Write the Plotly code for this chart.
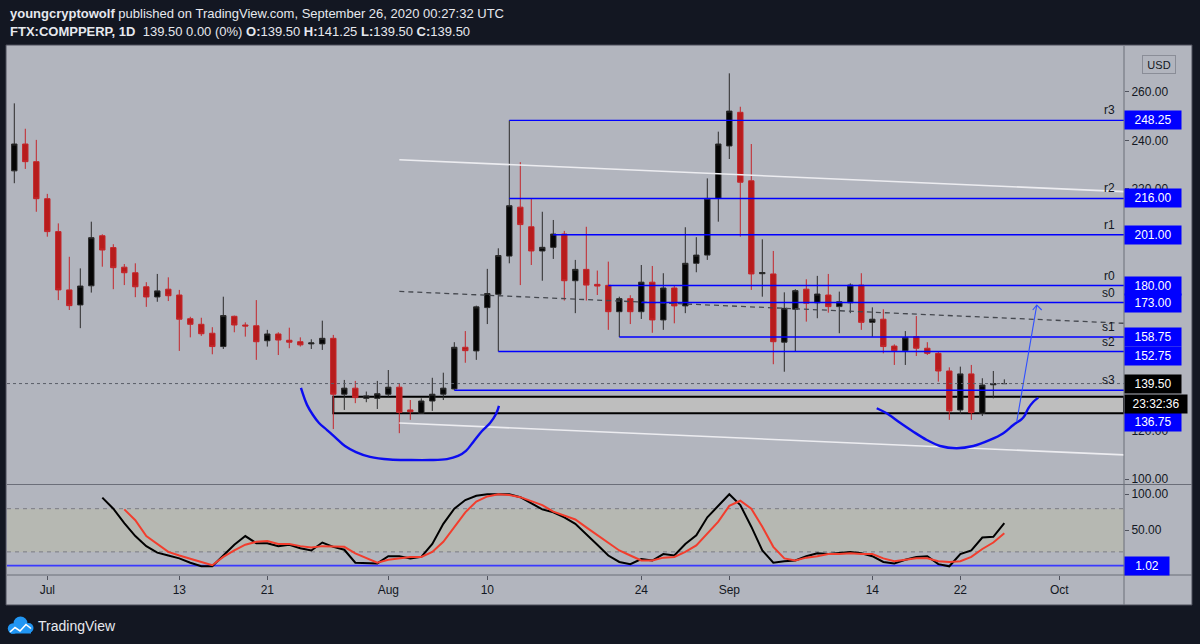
import pandas as pd
import plotly.graph_objects as go

FONT = "Liberation Sans"

# ---------------- data ----------------
first_day = pd.Timestamp("2020-06-28")
dates = pd.date_range(first_day, periods=91, freq="D")

opens = [227.4, 238.5, 231.2, 215.9, 202.3, 178.2, 172.0, 179.9, 200.6, 195.7,
         187.6, 185.3, 179.5, 175.3, 178.5, 176.1, 166.3, 164.0, 160.3, 154.8,
         167.3, 163.7, 163.4, 157.2, 160.0, 157.4, 156.8, 155.9, 155.9, 158.2,
         135.1, 137.6, 133.4, 133.4, 135.1, 138.0, 128.6, 127.2, 132.3, 135.1,
         137.3, 154.5, 153.0, 170.9, 176.4, 192.2, 212.4, 204.3, 194.3, 195.8,
         201.3, 182.0, 186.7, 180.5, 180.1, 169.2, 174.6, 169.2, 181.4, 165.8,
         179.0, 171.6, 189.2, 192.6, 216.0, 237.7, 251.6, 223.3, 184.9, 184.8,
         156.6, 170.2, 178.5, 172.9, 176.1, 171.3, 172.9, 180.2, 164.8, 166.1,
         155.0, 153.1, 158.9, 154.1, 152.0, 144.7, 128.6, 143.5, 127.2, 139.0,
         139.5]
highs = [255.3, 244.8, 240.2, 217.9, 205.7, 191.9, 187.1, 206.4, 201.2, 197.1,
         188.9, 189.2, 181.4, 184.8, 183.4, 178.2, 167.1, 166.7, 162.8, 175.4,
         167.6, 164.8, 174.0, 161.7, 160.7, 162.6, 158.6, 157.8, 165.5, 159.6,
         141.0, 140.6, 136.2, 140.6, 145.1, 139.5, 132.7, 133.4, 141.9, 144.0,
         156.6, 161.2, 171.7, 186.9, 195.4, 248.25, 231.0, 216.0, 210.5, 207.1,
         202.6, 190.6, 204.3, 186.2, 189.9, 175.4, 176.0, 188.5, 188.1, 185.1,
         180.2, 204.1, 200.0, 224.3, 243.6, 267.7, 253.9, 238.5, 199.1, 194.3,
         177.2, 178.5, 182.6, 184.0, 184.8, 177.5, 180.9, 185.1, 171.0, 170.2,
         155.7, 161.2, 167.4, 156.6, 152.7, 146.2, 146.5, 147.2, 141.7, 144.7,
         141.25]
lows = [222.3, 228.2, 210.5, 200.2, 174.0, 169.9, 162.4, 177.1, 187.8, 178.5,
        180.2, 175.2, 171.2, 173.3, 173.6, 153.0, 158.6, 159.2, 151.6, 153.8,
        160.7, 158.9, 149.3, 154.8, 151.3, 154.1, 154.8, 153.8, 153.4, 120.7,
        128.6, 131.4, 131.8, 129.0, 134.1, 119.0, 124.5, 127.0, 128.2, 132.7,
        136.75, 148.1, 149.3, 164.1, 152.75, 189.2, 180.2, 188.5, 182.0, 191.0,
        173.8, 168.6, 173.8, 176.1, 161.7, 158.75, 164.1, 166.2, 160.5, 161.7,
        164.4, 168.6, 185.5, 190.6, 206.4, 232.3, 200.2, 178.2, 175.4, 147.5,
        144.4, 152.7, 165.1, 166.5, 168.8, 160.3, 168.6, 161.7, 158.9, 152.0,
        147.2, 147.2, 150.9, 151.3, 140.3, 124.5, 126.9, 124.5, 126.1, 133.4,
        139.5]
closes = [238.5, 231.2, 215.9, 202.3, 178.2, 171.7, 179.8, 199.8, 194.7, 187.4,
          185.3, 179.5, 175.3, 177.8, 175.8, 166.1, 164.0, 160.1, 154.8, 167.6,
          163.7, 163.3, 156.8, 160.0, 157.5, 156.6, 155.5, 156.3, 158.2, 135.1,
          137.6, 133.7, 134.4, 135.3, 138.0, 127.6, 127.9, 132.3, 135.1, 137.6,
          154.5, 153.1, 171.2, 176.7, 192.4, 213.0, 205.2, 194.3, 195.8, 201.3,
          182.0, 186.7, 180.2, 179.8, 169.2, 174.6, 169.2, 181.4, 165.8, 179.0,
          171.6, 189.2, 192.6, 216.0, 238.5, 252.1, 222.7, 184.8, 185.4, 156.8,
          170.6, 177.9, 172.7, 176.5, 171.3, 173.3, 180.2, 164.8, 166.1, 154.8,
          153.1, 158.5, 154.1, 152.0, 144.7, 128.2, 143.5, 127.5, 138.9, 139.5,
          139.5]

# Stoch RSI (K black, D red)
k_first = pd.Timestamp("2020-07-06")
stoch_k = [95.4, 80, 60, 42, 28, 19, 15, 11, 5, 0, 0, 15, 30, 42, 32, 32, 28, 30, 25,
           22, 33, 27, 23, 5, 4, 4, 14, 14, 11, 13, 31, 59, 80, 92, 98, 100, 100, 100,
           96, 87, 79, 75, 68, 59, 45, 30, 15, 6, 3, 10, 8, 17, 15, 31, 43, 68, 84,
           100, 85, 55, 22, 5, 7, 8, 14, 18, 17, 19, 20, 18, 14, 6, 4, 9, 13, 14, 3,
           0, 17, 22, 40, 41, 60]
d_first = pd.Timestamp("2020-07-08")
stoch_d = [79, 64, 42, 31, 20, 15, 11, 6, 1.5, 13, 22, 30, 34, 35, 31, 31, 28, 26, 28,
           28, 27, 18, 12, 5, 9, 11, 13, 13, 20, 34, 55, 75, 90, 97, 100, 99, 96, 90,
           85, 76, 70, 65, 54, 43, 33, 22, 15, 8, 8, 12, 13, 20, 29, 46, 62, 84, 91,
           80, 55, 27, 11, 8, 12, 14, 17, 17, 18, 17, 17, 11, 7, 9, 11, 11, 7, 6, 7,
           13, 24, 33, 46]
stoch_level = 1.02
band_low, band_high = 20, 80

# Horizontal levels drawn on the chart
level_names = ["r3", "r2", "r1", "r0", "s0", "s1", "s2", "s3"]
level_prices = [248.25, 216.00, 201.00, 180.00, 173.00, 158.75, 152.75, 136.75]
level_starts = ["2020-08-12", "2020-08-12", "2020-08-16", "2020-08-21",
                "2020-08-24", "2020-08-22", "2020-08-11", "2020-08-07"]
label_shift = [0, 0, 0, 0, 0, 0, -4.5, -32]

last_price = 139.50
countdown = "23:32:36"

# Support zone rectangle
zone_start = "2020-07-27"
zone_top, zone_bottom = 134.1, 127.2

# Parallel channel
channel_dates = ["2020-08-02", "2020-10-07"]
channel_top = [232.0, 218.8]
channel_mid = [177.6, 164.4]
channel_bottom = [123.2, 110.0]

# Hand drawn curves (days after first candle, price)
left_curve_days = [26.06, 26.61, 27.15, 27.7, 28.43, 29.15, 30.06, 31.06, 32.34, 34.15,
                   35.97, 37.79, 39.33, 40.34, 41.06, 41.79, 42.52, 43.25, 43.79, 44.06]
left_curve_prices = [137.7, 130.7, 126.5, 123.2, 120.3, 117.4, 113.7, 111.2, 109.2, 108.1,
                     107.9, 107.9, 108.3, 109.6, 111.7, 115.8, 119.9, 123.2, 126.9, 130.3]
right_curve_days = [78.4, 79.31, 80.52, 81.73, 82.95, 84.15, 85.67, 87.18, 88.7, 89.91,
                    90.82, 91.58, 91.88, 92.18, 92.64, 93.09]
right_curve_prices = [129.3, 127.2, 123.3, 119.6, 116.2, 113.7, 112.8, 113.7, 116.2, 119.0,
                      122.4, 124.8, 126.5, 129.3, 132.0, 133.7]
arrow_days = [91.13, 92.95]
arrow_prices = [123.8, 171.9]
arrowhead_days = [92.58, 92.95, 93.4]
arrowhead_prices = [169.9, 171.9, 169.9]

# Axis ticks (price ticks hidden behind level labels are omitted)
time_ticks = ["2020-07-01", "2020-07-13", "2020-07-21", "2020-08-01", "2020-08-10",
              "2020-08-24", "2020-09-01", "2020-09-14", "2020-09-22", "2020-10-01"]
time_labels = ["Jul", "13", "21", "Aug", "10", "24", "Sep", "14", "22", "Oct"]
price_ticks = [100, 120, 220, 240, 260]
stoch_ticks = [50, 100]

# ---------------- geometry ----------------
PL, PR, PT, PB = 7, 1124, 46, 575
W, H = PR - PL, PB - PT


def px(x):
    return (x - PL) / W


def py(y):
    return (PB - y) / H


def day(d):
    return first_day + pd.to_timedelta(d, unit="D")


x_left = day(-0.6636)
x_right = day(100.88)
main_bottom = py(484)
ind_top = py(485)

BG = "#b2b5be"
BLUE = "#0000ff"
TXT = "#131722"

fig = go.Figure()

# candles
fig.add_trace(go.Candlestick(
    x=dates, open=opens, high=highs, low=lows, close=closes,
    increasing=dict(line=dict(color="#2b2b2b", width=1), fillcolor="#050505"),
    decreasing=dict(line=dict(color="#c4262b", width=1), fillcolor="#b71c1c"),
    xaxis="x", yaxis="y", hoverinfo="skip", whiskerwidth=0))

# channel
ch_x = pd.to_datetime(channel_dates)
for vals, col, dash, wd in [(channel_top, "#ececf0", "solid", 1.6),
                            (channel_bottom, "#ececf0", "solid", 1.6),
                            (channel_mid, "#45484f", "5px,4px", 1.3)]:
    fig.add_trace(go.Scatter(x=ch_x, y=vals, mode="lines",
                             line=dict(color=col, width=wd, dash=dash),
                             xaxis="x", yaxis="y", hoverinfo="skip"))

# horizontal levels
for name, p, s in zip(level_names, level_prices, level_starts):
    fig.add_trace(go.Scatter(x=[pd.Timestamp(s), x_right], y=[p, p], mode="lines",
                             line=dict(color=BLUE, width=1.4),
                             xaxis="x", yaxis="y", hoverinfo="skip"))

# hand-drawn curves
fig.add_trace(go.Scatter(x=[day(d) for d in left_curve_days], y=left_curve_prices,
                         mode="lines", line=dict(color="#0c0cf0", width=2.4, shape="spline"),
                         xaxis="x", yaxis="y", hoverinfo="skip"))
fig.add_trace(go.Scatter(x=[day(d) for d in right_curve_days], y=right_curve_prices,
                         mode="lines", line=dict(color="#0c0cf0", width=2.4, shape="spline"),
                         xaxis="x", yaxis="y", hoverinfo="skip"))
fig.add_trace(go.Scatter(x=[day(d) for d in arrow_days], y=arrow_prices,
                         mode="lines", line=dict(color="#3050ff", width=1.1),
                         xaxis="x", yaxis="y", hoverinfo="skip"))
fig.add_trace(go.Scatter(x=[day(d) for d in arrowhead_days], y=arrowhead_prices,
                         mode="lines", line=dict(color="#3050ff", width=1.1),
                         xaxis="x", yaxis="y", hoverinfo="skip"))

# stoch RSI
k_dates = pd.date_range(k_first, periods=len(stoch_k), freq="D")
d_dates = pd.date_range(d_first, periods=len(stoch_d), freq="D")
fig.add_trace(go.Scatter(x=k_dates, y=stoch_k, mode="lines",
                         line=dict(color="#000000", width=2), xaxis="x2", yaxis="y2",
                         hoverinfo="skip"))
fig.add_trace(go.Scatter(x=d_dates, y=stoch_d, mode="lines",
                         line=dict(color="#f23d2d", width=2), xaxis="x2", yaxis="y2",
                         hoverinfo="skip"))

shapes = []
# chart region background and border
shapes.append(dict(type="rect", xref="paper", yref="paper", x0=px(6), x1=px(1192),
                   y0=py(605), y1=py(45), fillcolor=BG,
                   line=dict(color="#4a4d58", width=1), layer="below"))
# support zone
shapes.append(dict(type="rect", xref="x", yref="y", x0=pd.Timestamp(zone_start), x1=x_right,
                   y0=zone_bottom, y1=zone_top, fillcolor="#bebebe",
                   line=dict(color="#000000", width=2), layer="below"))
# stoch band
shapes.append(dict(type="rect", xref="x2 domain", yref="y2", x0=0, x1=1,
                   y0=band_low, y1=band_high, fillcolor="#b6b8b2",
                   line=dict(width=0), layer="below"))
for lv in (band_low, band_high):
    shapes.append(dict(type="line", xref="x2 domain", yref="y2", x0=0, x1=1, y0=lv, y1=lv,
                       line=dict(color="#7a7c84", width=1, dash="4px,4px"), layer="below"))
shapes.append(dict(type="line", xref="x2 domain", yref="y2", x0=0, x1=1,
                   y0=stoch_level, y1=stoch_level, line=dict(color="#3a3aff", width=1.8),
                   layer="below"))
# current price dotted line
shapes.append(dict(type="line", xref="x domain", yref="y", x0=0, x1=1, y0=last_price,
                   y1=last_price, line=dict(color="#5a5d68", width=1, dash="dot")))
# separators
for yy in (484.5, 575):
    shapes.append(dict(type="line", xref="paper", yref="paper", x0=px(7), x1=px(1192),
                       y0=py(yy), y1=py(yy), line=dict(color="#6b6e79", width=1)))
shapes.append(dict(type="line", xref="paper", yref="paper", x0=px(1124), x1=px(1124),
                   y0=py(605), y1=py(46), line=dict(color="#6b6e79", width=1)))
# TradingView logo (footer)
for cx, cy, r in [(13, 628.5, 5.2), (20.5, 623.5, 7), (28.5, 628, 5)]:
    shapes.append(dict(type="circle", xref="paper", yref="paper", x0=px(cx - r), x1=px(cx + r),
                       y0=py(cy + r), y1=py(cy - r), fillcolor="#2196f3",
                       line=dict(width=0)))
shapes.append(dict(type="rect", xref="paper", yref="paper", x0=px(11), x1=px(31),
                   y0=py(633.5), y1=py(627), fillcolor="#2196f3", line=dict(width=0)))
shapes.append(dict(type="path", xref="paper", yref="paper",
                   path="M {} {} L {} {} L {} {} L {} {} L {} {}".format(
                       px(10), py(632), px(15), py(627.5), px(20), py(631),
                       px(26), py(624.5), px(31), py(628.5)),
                   line=dict(color="#ffffff", width=1.6)))

ann = []
# header
ann.append(dict(xref="paper", yref="paper", x=px(8), y=py(13), xanchor="left", yanchor="middle",
                showarrow=False,
                text="<b>youngcryptowolf</b> published on TradingView.com, September 26, 2020 00:27:32 UTC",
                font=dict(family=FONT, size=13, color="#e6e8ee")))
ann.append(dict(xref="paper", yref="paper", x=px(8), y=py(32), xanchor="left", yanchor="middle",
                showarrow=False,
                text="<b>FTX:COMPPERP, 1D</b>  139.50 0.00 (0%) <b>O:</b>139.50 <b>H:</b>141.25 "
                     "<b>L:</b>139.50 <b>C:</b>139.50",
                font=dict(family=FONT, size=13, color="#e6e8ee")))
# footer
ann.append(dict(xref="paper", yref="paper", x=px(36), y=py(626), xanchor="left", yanchor="middle",
                showarrow=False, text="TradingView",
                font=dict(family=FONT, size=14, color="#e6e8ee")))
# USD button
ann.append(dict(xref="paper", yref="paper", x=px(1159), y=py(64.5), xanchor="center",
                yanchor="middle", showarrow=False, text="USD", width=30, height=15,
                bgcolor=BG, bordercolor="#8a8d97", borderwidth=1, borderpad=1,
                font=dict(family=FONT, size=11, color=TXT)))
# level names and price-axis labels
for name, p, sh in zip(level_names, level_prices, label_shift):
    ann.append(dict(xref="paper", yref="y", x=px(1117), y=p, xanchor="right", yanchor="bottom",
                    yshift=1, showarrow=False, text=name,
                    font=dict(family=FONT, size=12, color=TXT)))
    ann.append(dict(xref="paper", yref="y", x=1, y=p, xanchor="left", yanchor="middle",
                    yshift=sh, showarrow=False, text=f"{p:.2f}", width=54, height=16,
                    borderpad=1, bgcolor="#0000ff",
                    font=dict(family=FONT, size=12, color="#ffffff")))
ann.append(dict(xref="paper", yref="y", x=1, y=last_price, xanchor="left", yanchor="middle",
                showarrow=False, text=f"{last_price:.2f}", width=54, height=16, borderpad=1,
                bgcolor="#000000", font=dict(family=FONT, size=12, color="#ffffff")))
ann.append(dict(xref="paper", yref="y", x=1, y=last_price, xanchor="left", yanchor="middle",
                yshift=-20, showarrow=False, text=countdown, width=60, height=16, borderpad=1,
                bgcolor="#000000", font=dict(family=FONT, size=12, color="#ffffff")))
ann.append(dict(xref="paper", yref="y2", x=1, y=stoch_level, xanchor="left", yanchor="middle",
                showarrow=False, text=f"{stoch_level:.2f}", width=42, height=16, borderpad=1,
                bgcolor="#0000ff", font=dict(family=FONT, size=12, color="#ffffff")))

axis_font = dict(family=FONT, size=12, color=TXT)
fig.update_layout(
    width=1200, height=644,
    margin=dict(l=PL, r=1200 - PR, t=PT, b=644 - PB),
    paper_bgcolor="#131722", plot_bgcolor=BG,
    showlegend=False, hovermode=False,
    shapes=shapes, annotations=ann,
    xaxis=dict(type="date", range=[x_left, x_right], domain=[0, 1], anchor="y",
               showticklabels=False, showgrid=False, zeroline=False, showline=False,
               ticks="", rangeslider=dict(visible=False)),
    xaxis2=dict(type="date", range=[x_left, x_right], domain=[0, 1], anchor="y2", matches="x",
                tickvals=pd.to_datetime(time_ticks), ticktext=time_labels,
                ticks="outside", ticklen=4, tickcolor="#50535e", tickfont=axis_font,
                showgrid=False, zeroline=False, showline=False),
    yaxis=dict(domain=[main_bottom, 1], range=[98.0, 279.0], side="right", anchor="x",
               tickvals=price_ticks, ticktext=[f"{v:.2f}" for v in price_ticks],
               ticks="outside", ticklen=4, tickcolor="#50535e", tickfont=axis_font,
               showgrid=False, zeroline=False, showline=False),
    yaxis2=dict(domain=[0, ind_top], range=[-12.1, 112.9], side="right", anchor="x2",
                tickvals=stoch_ticks, ticktext=[f"{v:.2f}" for v in stoch_ticks],
                ticks="outside", ticklen=4, tickcolor="#50535e", tickfont=axis_font,
                showgrid=False, zeroline=False, showline=False),
)

fig.write_html("out.html")
